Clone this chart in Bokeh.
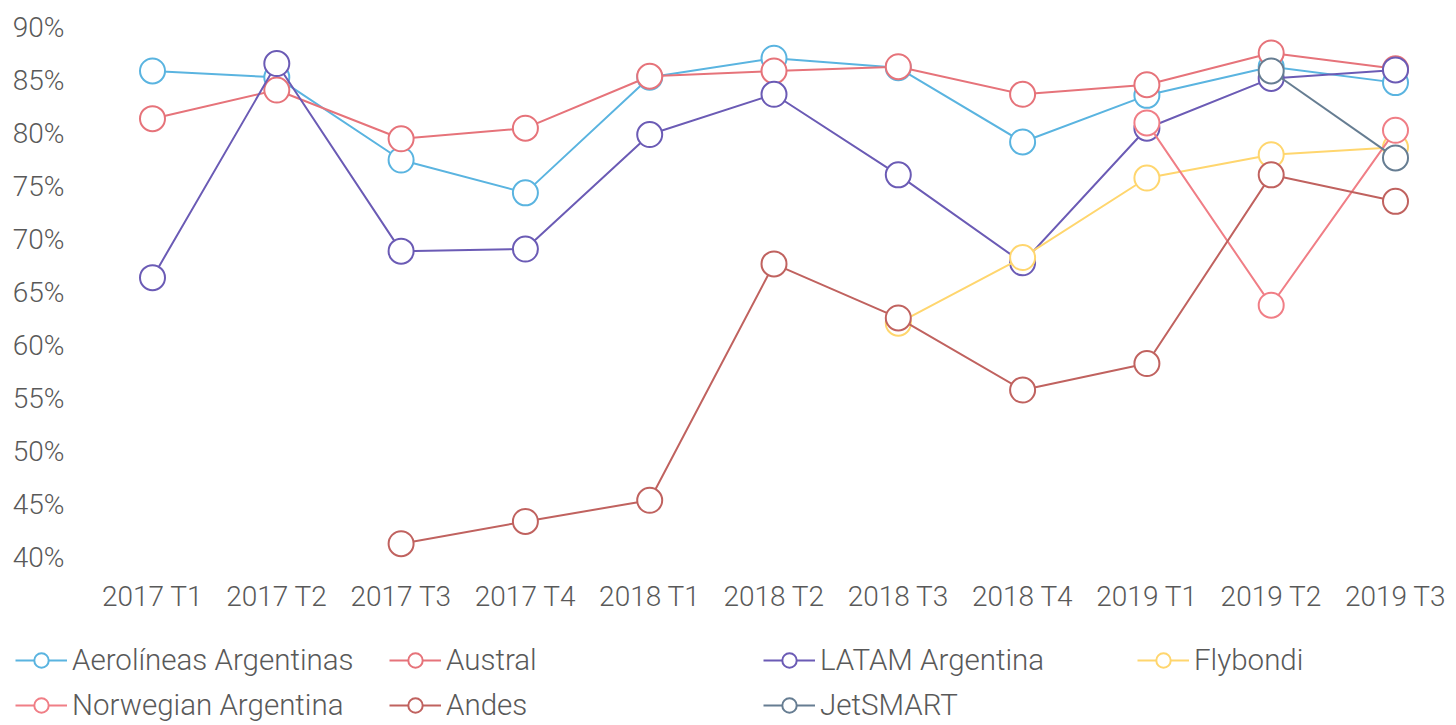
from bokeh.plotting import figure
from bokeh.models import Range1d, Legend, LegendItem, FixedTicker, PrintfTickFormatter
from bokeh.embed import file_html
from bokeh.resources import INLINE

quarters = ["2017 T1", "2017 T2", "2017 T3", "2017 T4", "2018 T1", "2018 T2",
            "2018 T3", "2018 T4", "2019 T1", "2019 T2", "2019 T3"]

aerolineas = [85.9, 85.3, 77.5, 74.4, 85.3, 87.1, 86.2, 79.2, 83.6, 86.3, 84.8]
austral = [81.4, 84.1, 79.5, 80.5, 85.4, 85.9, 86.3, 83.7, 84.6, 87.6, 86.1]
latam = [66.4, 86.6, 68.9, 69.1, 79.9, 83.7, 76.1, 67.8, 80.5, 85.2, 86.0]
flybondi_q = ["2018 T3", "2018 T4", "2019 T1", "2019 T2", "2019 T3"]
flybondi = [62.1, 68.3, 75.8, 78.0, 78.7]
norwegian_q = ["2019 T1", "2019 T2", "2019 T3"]
norwegian = [81.0, 63.8, 80.3]
andes_q = ["2017 T3", "2017 T4", "2018 T1", "2018 T2", "2018 T3", "2018 T4",
           "2019 T1", "2019 T2", "2019 T3"]
andes = [41.3, 43.4, 45.4, 67.7, 62.6, 55.8, 58.3, 76.1, 73.6]
jetsmart_q = ["2019 T2", "2019 T3"]
jetsmart = [85.9, 77.7]

y_ticks = [40, 45, 50, 55, 60, 65, 70, 75, 80, 85, 90]

series = [
    ("Aerolíneas Argentinas", quarters, aerolineas, "#5AB4E0"),
    ("Austral", quarters, austral, "#E6737A"),
    ("LATAM Argentina", quarters, latam, "#6B5BB5"),
    ("Flybondi", flybondi_q, flybondi, "#FFD66E"),
    ("Norwegian Argentina", norwegian_q, norwegian, "#F07E86"),
    ("Andes", andes_q, andes, "#C0625F"),
    ("JetSMART", jetsmart_q, jetsmart, "#667D92"),
]

FONT = "Roboto Light, Roboto"
TXT = "#595959"

# layout: one category step = 124.3 px, first category at x=152 px
STEP = 124.3
p = figure(
    width=1456, height=725,
    x_range=Range1d(-152 / STEP, (1456 - 152) / STEP),
    y_range=Range1d(24.151, 92.547),
    output_backend="svg", toolbar_location=None,
    min_border=0, min_border_top=0, min_border_left=0,
    min_border_right=0, min_border_bottom=0,
)
p.outline_line_color = None
p.grid.grid_line_color = None

for ax in (p.xaxis[0], p.yaxis[0]):
    ax.axis_line_color = None
    ax.major_tick_line_color = None
    ax.minor_tick_line_color = None
    ax.major_tick_out = 0
    ax.major_tick_in = 0
    ax.minor_tick_out = 0
    ax.major_label_text_font = FONT
    ax.major_label_text_font_size = "28px"
    ax.major_label_text_color = TXT

p.yaxis.ticker = FixedTicker(ticks=y_ticks)
p.yaxis.formatter = PrintfTickFormatter(format="%d%%")
p.yaxis.fixed_location = (74 - 152) / STEP
p.yaxis.major_label_standoff = 10

p.xaxis.ticker = FixedTicker(ticks=list(range(len(quarters))))
p.xaxis.major_label_overrides = {i: q for i, q in enumerate(quarters)}
p.xaxis.fixed_location = y_ticks[0]
p.xaxis.major_label_standoff = 22

items = []
for name, qs, ys, color in series:
    xs = [quarters.index(q) for q in qs]
    ln = p.line(xs, ys, line_color=color, line_width=2)
    sc = p.scatter(xs, ys, size=25, marker="circle", fill_color="white",
                   line_color=color, line_width=2)
    items.append(LegendItem(label=name, renderers=[ln, sc]))

legend = Legend(items=items, orientation="horizontal", ncols=4,
                location=(15, 2), border_line_color=None,
                background_fill_alpha=0,
                label_text_font=FONT, label_text_font_size="29.5px",
                label_text_color=TXT, label_width=308, label_height=36,
                glyph_width=52, glyph_height=36, label_standoff=5,
                spacing=9, padding=0, margin=0)
p.add_layout(legend, "center")

open("out.html", "w").write(file_html(p, INLINE))
